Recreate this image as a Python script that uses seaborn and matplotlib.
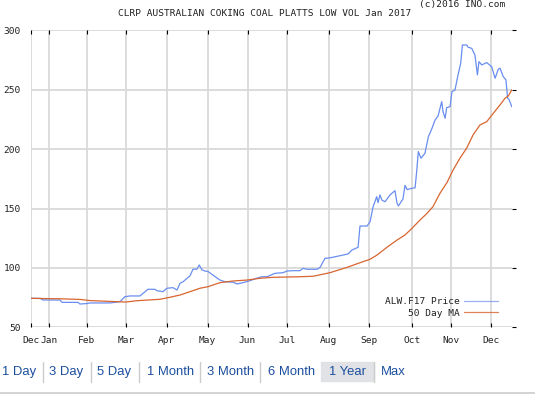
import numpy as np
import pandas as pd
import matplotlib
matplotlib.use('Agg')
import matplotlib.pyplot as plt
import seaborn as sns
from matplotlib.lines import Line2D

# x is a trading-session index (0 = start of the window in Dec 2015)
price_x = [0, 4.9, 6.5, 15.4, 16.5, 24.9, 25.9, 29.6, 31.2, 41.7, 47, 49.6, 52.3, 57.5,
           60.2, 61.7, 65.4, 66.5, 69.6, 71.7, 74.9, 77, 78.6, 80.2, 82.3, 83.8, 85.4,
           87.5, 88.7, 90.2, 91.7, 93.3, 95.9, 99.6, 102.3, 106.5, 108.6, 111.7, 115.4,
           118.9, 121.7, 124.4, 128.6, 132.8, 134.9, 138, 141.7, 143.3, 145.4, 150.7,
           152.3, 154.9, 157.5, 162.8, 167, 169.1, 172.3, 173.3, 177, 178.6, 180.2, 182.1,
           182.8, 183.8, 184.9, 186.5, 189.1, 191.7, 192.8, 193.5, 195.9, 197, 198.1,
           200.5, 202.3, 203.2, 204, 205.4, 207.5, 209.3, 211.2, 212.8, 214.4, 216.3, 217,
           218.1, 218.9, 220.7, 221.7, 223.3, 224.9, 226.3, 227.2, 229.5, 230.2, 232.1,
           233.8, 235.1, 235.9, 237.4, 240, 242.6, 244.4, 246.1, 247, 248.7, 250.1, 251,
           251.7, 253.2]
price = [74.4, 74.4, 73, 73, 71, 71, 69.6, 70, 70.5, 70.5, 71.6, 75.8, 76.4, 76.4,
         80, 82, 82, 80.8, 80, 82.9, 83.4, 81.4, 87.1, 88.4, 91.3, 93.2, 98.9,
         99, 102.5, 98.3, 97.4, 97, 94, 89.8, 88.4, 88, 86.5, 87.6, 89.3,
         91.3, 92.6, 92.6, 95.5, 96, 97.4, 97.7, 97.7, 99.7, 98.9, 98.9,
         100.5, 108.1, 108.5, 110.3, 111.8, 115.1, 117.4, 135.3, 135.3, 139, 151.6, 160,
         155, 161.5, 157, 155.8, 161.5, 165.1, 154.5, 152.2, 158, 169.6, 166,
         167.1, 167.5, 182.5, 198, 192.4, 196.6, 210.6, 217.6, 224.6, 228, 240.1, 231.6,
         226.1, 235, 235.8, 248.5, 249.9, 262.6, 272.4, 287.8, 287.8, 285.9, 285,
         279.4, 262.6, 273.8, 271, 273, 269.5, 259.8, 267.4, 268.2, 261.1, 258.4, 242.9,
         242, 235.8]

ma_x = [0, 15.4, 25.9, 31.2, 41.7, 50.2, 55.9, 68, 73.3, 78.6, 83.8, 89.1, 93.3, 99.6,
        106.5, 113.8, 120.7, 127.5, 136.5, 141.7, 148.7, 157.5, 166.5, 173.3, 178.6,
        182.3, 187.5, 192.8, 197, 200.7, 204.9, 208.6, 211.7, 215.4, 219.1, 222.3, 225.9,
        229.4, 232.8, 236.4, 240, 242.8, 244.9, 247, 249.6, 251.4, 253.2]
ma50 = [74.4, 74, 73.5, 72.5, 71.8, 71.3, 72.4, 73.6, 75.3, 77.2, 80, 82.9, 84.2, 87.6,
        89, 89.8, 91.3, 92.1, 92.4, 92.6, 93, 96, 100.5, 104.4, 107.3,
        110.9, 117.4, 123.5, 127.8, 133.4, 140.4, 146, 151.6, 162.9, 172, 182.5, 192.4,
        200.8, 212, 220.4, 223.2, 228.9, 233.1, 237.3, 242.9, 244.9, 250]

month_pos = [0, 9.8, 29.5, 50.2, 71.6, 93.1, 114.1, 135.1, 156.8, 178.3, 200.9, 221.1, 242.2]
month_labels = ['Dec', 'Jan', 'Feb', 'Mar', 'Apr', 'May', 'Jun', 'Jul', 'Aug', 'Sep',
                'Oct', 'Nov', 'Dec']
y_ticks = [50, 100, 150, 200, 250, 300]

nav_labels = ['1 Day', '3 Day', '5 Day', '1 Month', '3 Month', '6 Month', '1 Year', 'Max']

W, H = 535, 394
BLUE = '#6a8ef0'
ORANGE = '#d9652e'
GRID = '#d9d9d9'

sns.set_style('white')
plt.rcParams['font.family'] = ['DejaVu Sans Mono']

df = pd.concat([
    pd.DataFrame({'x': price_x, 'y': price, 'series': 'ALW.F17 Price'}),
    pd.DataFrame({'x': ma_x, 'y': ma50, 'series': '50 Day MA'}),
])

fig = plt.figure(figsize=(W / 100, H / 100), dpi=100)
ax = fig.add_axes([30.7 / W, 1 - 327.3 / H, (512 - 30.7) / W, (327.3 - 30.5) / H])

sns.lineplot(data=df, x='x', y='y', hue='series', sort=False, estimator=None,
             palette={'ALW.F17 Price': BLUE, '50 Day MA': ORANGE},
             linewidth=0.9, ax=ax, legend=False)

ax.set_xlim(0, 253.3)
ax.set_ylim(50, 300)
ax.set_xlabel('')
ax.set_ylabel('')

for p in month_pos:
    ax.axvline(p, color=GRID, lw=1.3, zorder=0)
for v in y_ticks:
    ax.axhline(v, color=GRID, lw=1.3, zorder=0)
for s in ax.spines.values():
    s.set_visible(False)

ax.set_xticks(month_pos)
ax.set_xticklabels(month_labels)
ax.tick_params(axis='x', direction='in', length=3, width=0.8, color='black',
               top=True, bottom=True, labelsize=6.8, pad=6, labelcolor='#222222')
ax.set_yticks(y_ticks)
ax.set_yticklabels([str(v) for v in y_ticks])
ax.tick_params(axis='y', which='both', left=True, right=True, direction='out',
               length=3, width=0.8, color='black', labelsize=6.8, pad=4,
               labelcolor='#222222')
ax.tick_params(axis='y', left=False)

handles = [Line2D([], [], color=BLUE, lw=0.9, alpha=0.7),
           Line2D([], [], color=ORANGE, lw=0.9, alpha=0.8)]
leg = ax.legend(handles, ['ALW.F17 Price', '50 Day MA'], loc='lower right',
                bbox_to_anchor=(0.985, 0.01), frameon=False, markerfirst=False,
                fontsize=6.8, handlelength=3.6, handletextpad=0.5, labelspacing=0.3,
                borderpad=0.2)
for t in leg.get_texts():
    t.set_color('#222222')

fig.text(265 / W, 1 - 13 / H, 'CLRP AUSTRALIAN COKING COAL PLATTS LOW VOL Jan 2017',
         ha='center', va='center', fontsize=6.8, color='#222222')
fig.text(505 / W, 1 - 5 / H, '(c)2016 INO.com', ha='right', va='center',
         fontsize=6.8, color='#222222')

# period selector bar under the chart
nav_x = [2, 49, 97, 147, 206.7, 267.7, 329.3, 381.3]
sep_x = [42.7, 90.7, 138.7, 200, 260.3, 374]
fig.patches.append(plt.Rectangle((321 / W, 1 - 381 / H), 53 / W, 19 / H,
                                 transform=fig.transFigure, color='#e1e2e6', zorder=0))
for sx in sep_x:
    fig.add_artist(Line2D([sx / W, sx / W], [1 - 382 / H, 1 - 362 / H],
                          transform=fig.transFigure, color='#cccccc', lw=1))
for nx, lab in zip(nav_x, nav_labels):
    fig.text(nx / W, 1 - 372 / H, lab, ha='left', va='center', fontsize=9.4,
             color='#1c4f9f', family=['Liberation Sans', 'DejaVu Sans'])
fig.add_artist(Line2D([0, 1], [1 - 392.5 / H, 1 - 392.5 / H],
                      transform=fig.transFigure, color='#cccccc', lw=1.2))

fig.savefig('out.png', dpi=100)
